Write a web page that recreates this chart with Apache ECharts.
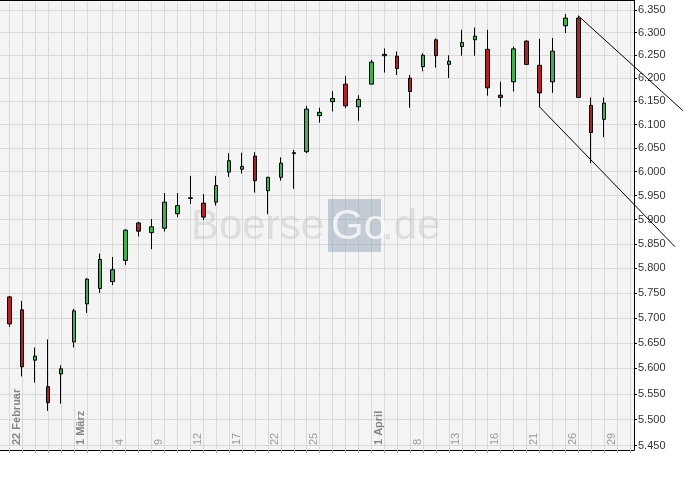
<!DOCTYPE html>
<html><head><meta charset="utf-8">
<script src="https://cdn.jsdelivr.net/npm/echarts@6/dist/echarts.min.js"></script>
<style>html,body{margin:0;padding:0;background:#fff}#c{width:683px;height:477px}</style>
</head><body><div id="c"></div>
<script>
// Trading days (index = position on the axis)
const dates = ['22.02','23.02','24.02','25.02','26.02','01.03','02.03','03.03','04.03','05.03',
  '08.03','09.03','10.03','11.03','12.03','15.03','16.03','17.03','18.03','19.03',
  '22.03','23.03','24.03','25.03','26.03','29.03','30.03','31.03','01.04','06.04',
  '07.04','08.04','09.04','12.04','13.04','14.04','15.04','16.04','19.04','20.04',
  '21.04','22.04','23.04','26.04','27.04','28.04','29.04'];
const openV  = [5.742,5.716,5.616,5.564,5.589,5.652,5.728,5.759,5.773,5.816,
  5.893,5.873,5.882,5.912,5.944,5.934,5.936,5.999,6.005,6.033,
  5.960,5.988,6.038,6.042,6.119,6.149,6.187,6.138,6.187,6.249,
  6.248,6.200,6.225,6.284,6.230,6.269,6.284,6.263,6.163,6.192,
  6.281,6.228,6.192,6.315,6.332,6.141,6.111];
const closeV = [5.688,5.603,5.624,5.533,5.599,5.714,5.778,5.818,5.797,5.878,
  5.876,5.885,5.936,5.929,5.945,5.905,5.971,6.023,6.011,5.981,
  5.988,6.018,6.040,6.133,6.126,6.156,6.140,6.154,6.235,6.252,
  6.221,6.171,6.250,6.249,6.237,6.278,6.292,6.179,6.158,6.264,
  6.230,6.168,6.259,6.332,6.158,6.083,6.146];
const lowV   = [5.682,5.584,5.572,5.517,5.531,5.641,5.710,5.750,5.766,5.807,
  5.865,5.839,5.875,5.905,5.932,5.899,5.929,5.989,5.996,5.956,
  5.911,5.981,5.964,6.039,6.104,6.128,6.135,6.108,6.187,6.212,
  6.207,6.136,6.215,6.223,6.200,6.249,6.249,6.162,6.138,6.171,
  6.229,6.138,6.168,6.299,6.157,6.018,6.073];
const highV  = [5.744,5.734,5.641,5.657,5.606,5.718,5.780,5.830,5.823,5.880,
  5.895,5.901,5.955,5.955,5.991,5.953,5.991,6.039,6.040,6.041,
  5.989,6.030,6.046,6.140,6.136,6.172,6.205,6.163,6.240,6.265,
  6.258,6.207,6.254,6.287,6.250,6.306,6.311,6.306,6.192,6.269,
  6.283,6.286,6.288,6.341,6.337,6.158,6.158];
// Axis ticks and labels
const yTicks = [5.45,5.50,5.55,5.60,5.65,5.70,5.75,5.80,5.85,5.90,5.95,6.00,6.05,6.10,6.15,6.20,6.25,6.30,6.35];
const yRange = [5.4418, 6.3723];
const xRange = [-0.719, 48.31];
const xLabelIdx  = [0,5,8,11,14,17,20,23,28,31,34,37,40,43,46];
const xLabelText = ['22 Februar','1 März','4','9','12','17','22','25','1 April','8','13','16','21','26','29'];
const monthLabels = ['22 Februar','1 März','1 April'];
// Trend channel lines [index, price]
const trendUpper = [[44, 6.337], [52.2, 6.127]];
const trendLower = [[41, 6.138], [51.48, 5.844]];

const L = Math.log;
const candles = dates.map((d, i) => [i, L(openV[i]), L(closeV[i]), L(lowV[i]), L(highV[i])]);
const xTickIdx = [];
for (let i = 0; i <= 48; i++) xTickIdx.push(i);
const yTickLn = yTicks.map(L);
const FONT = '"Liberation Sans", Arial, sans-serif';

const chart = echarts.init(document.getElementById('c'), null, {renderer: 'canvas'});
chart.setOption({
  animation: false,
  backgroundColor: '#ffffff',
  grid: {left: 0, right: 49, top: 0, bottom: 27, show: true, backgroundColor: '#f4f4f4', borderWidth: 0},
  xAxis: [{
    type: 'value', min: xRange[0], max: xRange[1], position: 'bottom',
    axisLine: {show: true, onZero: false, lineStyle: {color: '#000', width: 1}},
    axisTick: {show: true, customValues: xTickIdx, length: 3, lineStyle: {color: '#aaaaaa'}},
    axisLabel: {
      show: true, customValues: xLabelIdx, inside: true, rotate: 90, margin: 5,
      verticalAlign: 'top', padding: [2, 0, 0, 0],
      formatter: function (v) {
        const k = xLabelIdx.indexOf(Math.round(v));
        if (k < 0) return '';
        const t = xLabelText[k];
        return monthLabels.indexOf(t) >= 0 ? '{m|' + t + '}' : '{d|' + t + '}';
      },
      rich: {
        m: {fontFamily: FONT, fontSize: 11, fontWeight: 'bold', color: '#858585'},
        d: {fontFamily: FONT, fontSize: 11, color: '#9a9a9a'}
      }
    },
    splitLine: {show: true, lineStyle: {color: '#d9d9d9', width: 1}}
  }, {
    type: 'value', min: xRange[0], max: xRange[1], position: 'top',
    axisLine: {show: true, onZero: false, lineStyle: {color: '#000', width: 1}},
    axisTick: {show: false}, axisLabel: {show: false}, splitLine: {show: false}
  }],
  yAxis: {
    type: 'value', position: 'right', min: L(yRange[0]), max: L(yRange[1]),
    axisLine: {show: true, onZero: false, lineStyle: {color: '#000', width: 1}},
    axisTick: {show: true, customValues: yTickLn, length: 3, lineStyle: {color: '#000'}},
    axisLabel: {
      show: true, customValues: yTickLn, margin: 4,
      fontFamily: FONT, fontSize: 11, color: '#333333',
      formatter: function (v) { return Math.exp(v).toFixed(3); }
    },
    splitLine: {show: true, lineStyle: {color: '#d9d9d9', width: 1}}
  },
  series: [{
    type: 'candlestick',
    data: candles,
    encode: {x: 0, y: [1, 2, 3, 4]},
    barWidth: 4,
    z: 3,
    itemStyle: {color: '#3cb44b', color0: '#b22222', borderColor: '#000', borderColor0: '#000', borderWidth: 1}
  }]
});

// Trend lines positioned through the chart's own coordinate conversion
function px(p) { return chart.convertToPixel({gridIndex: 0}, [p[0], L(p[1])]); }
const u0 = px(trendUpper[0]), u1 = px(trendUpper[1]);
const l0 = px(trendLower[0]), l1 = px(trendLower[1]);
chart.setOption({
  graphic: [
    {type: 'rect', silent: true, z: 1, shape: {x: 328, y: 199, width: 53, height: 53},
     style: {fill: 'rgba(150,165,185,0.52)'}},
    {type: 'text', silent: true, z: 1, x: 191, y: 227,
     style: {text: 'Boerse', font: '42px "Liberation Sans", Arial', fill: 'rgba(190,190,190,0.4)', verticalAlign: 'middle'}},
    {type: 'text', silent: true, z: 1, x: 331, y: 227,
     style: {text: 'Go', font: '42px "Liberation Sans", Arial', fill: 'rgba(250,250,250,0.8)', verticalAlign: 'middle'}},
    {type: 'text', silent: true, z: 1, x: 382, y: 227,
     style: {text: '.de', font: '42px "Liberation Sans", Arial', fill: 'rgba(190,190,190,0.4)', verticalAlign: 'middle'}},
    {type: 'line', silent: true, z: 10, shape: {x1: u0[0], y1: u0[1], x2: u1[0], y2: u1[1]},
     style: {stroke: '#000', lineWidth: 1}},
    {type: 'line', silent: true, z: 10, shape: {x1: l0[0], y1: l0[1], x2: l1[0], y2: l1[1]},
     style: {stroke: '#000', lineWidth: 1}}
  ]
});
</script></body></html>
